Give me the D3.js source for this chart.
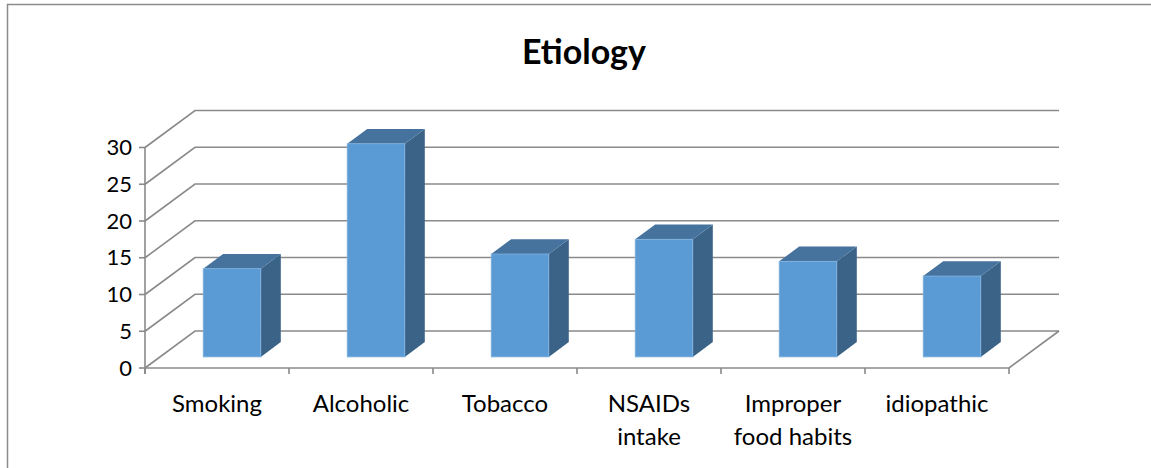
<!DOCTYPE html>
<html>
<head>
<meta charset="utf-8">
<script src="https://cdn.jsdelivr.net/npm/d3@7"></script>
<style>
  html, body { margin: 0; padding: 0; background: #fff; }
  svg { display: block; }
  text { font-family: Lato, "Open Sans", sans-serif; fill: #000; }
</style>
</head>
<body>
<svg id="chart" width="1151" height="468"></svg>
<script>
// Etiology counts per cause
const categories = [["Smoking"], ["Alcoholic"], ["Tobacco"], ["NSAIDs", "intake"], ["Improper", "food habits"], ["idiopathic"]];
const values = [12, 29, 14, 16, 13, 11];
const yTicks = [0, 5, 10, 15, 20, 25, 30];
const title = "Etiology";

const W = 1151, H = 468;
const svg = d3.select("#chart");

// front plane of the 3D plot area
const x0 = 145, x1 = 1009;
const y = d3.scaleLinear().domain([0, 30]).range([368, 147.5]);
// depth vector from the front plane to the back wall
const depth = { dx: 50, dy: -37 };

const keys = categories.map(c => c.join(" "));
const x = d3.scaleBand().domain(keys).range([x0, x1]).paddingInner(0.6).paddingOuter(0.3);

// chart frame (left and top edges)
svg.append("path")
  .attr("d", `M7.5,${H} L7.5,4.5 L${W},4.5`)
  .attr("fill", "none").attr("stroke", "#8c8c8c").attr("stroke-width", 1.5);

// title
svg.append("text").attr("x", 584).attr("y", 64)
  .attr("text-anchor", "middle").style("font-weight", "bold").style("font-size", "34px")
  .text(title);

const grid = svg.append("g").attr("fill", "none").attr("stroke", "#8a8a8a").attr("stroke-width", 1.6);

// gridlines: left side wall diagonal + back wall horizontal
yTicks.forEach(t => {
  const yf = y(t);
  grid.append("path")
    .attr("d", `M${x0},${yf} L${x0 + depth.dx},${yf + depth.dy} L${x1 + depth.dx},${yf + depth.dy}`);
});

// floor front edge and right edge
grid.append("path")
  .attr("d", `M${x0},${y(0)} L${x1},${y(0)} L${x1 + depth.dx},${y(0) + depth.dy}`);

// vertical value axis with ticks
grid.append("path").attr("d", `M${x0},${y(30)} L${x0},${y(0) + 6}`);
yTicks.forEach(t => {
  grid.append("path").attr("d", `M${x0 - 6},${y(t)} L${x0},${y(t)}`);
});
// category ticks along the front floor edge
const edges = keys.map(k => x(k) - x.step() * x.paddingOuter()).concat([x1]);
edges.forEach(e => {
  grid.append("path").attr("d", `M${e},${y(0)} L${e},${y(0) + 6}`);
});

// value labels
svg.append("g").selectAll("text").data(yTicks).join("text")
  .attr("x", 132).attr("y", d => y(d)).attr("dy", "0.35em")
  .attr("text-anchor", "end").style("font-size", "22px")
  .text(d => d);

// category labels
const catG = svg.append("g");
categories.forEach((lines, i) => {
  const cx = x(keys[i]) + x.bandwidth() / 2;
  const t = catG.append("text").attr("text-anchor", "middle").style("font-size", "24px");
  lines.forEach((ln, j) => {
    t.append("tspan").attr("x", cx).attr("y", 412 + j * 33).text(ln);
  });
});

// 3D bars: placed between 30% and 70% of the depth
const f0 = 0.3, f1 = 0.7;
const ox = depth.dx * f0, oy = depth.dy * f0;
const bdx = depth.dx * (f1 - f0), bdy = depth.dy * (f1 - f0);

const bars = svg.append("g");
values.forEach((v, i) => {
  const left = x(keys[i]) + ox;
  const right = left + x.bandwidth();
  const bottom = y(0) + oy;
  const top = y(v) + oy;
  const g = bars.append("g");
  // right side face
  g.append("path")
    .attr("d", `M${right},${top} L${right + bdx},${top + bdy} L${right + bdx},${bottom + bdy} L${right},${bottom} Z`)
    .attr("fill", "#3b6388");
  // top face
  g.append("path")
    .attr("d", `M${left},${top} L${left + bdx},${top + bdy} L${right + bdx},${top + bdy} L${right},${top} Z`)
    .attr("fill", "#45739e");
  // front face
  g.append("rect")
    .attr("x", left).attr("y", top).attr("width", x.bandwidth()).attr("height", bottom - top)
    .attr("fill", "#5b9bd5").attr("stroke", "#7fb0de").attr("stroke-width", 0.8);
});
</script>
</body>
</html>
